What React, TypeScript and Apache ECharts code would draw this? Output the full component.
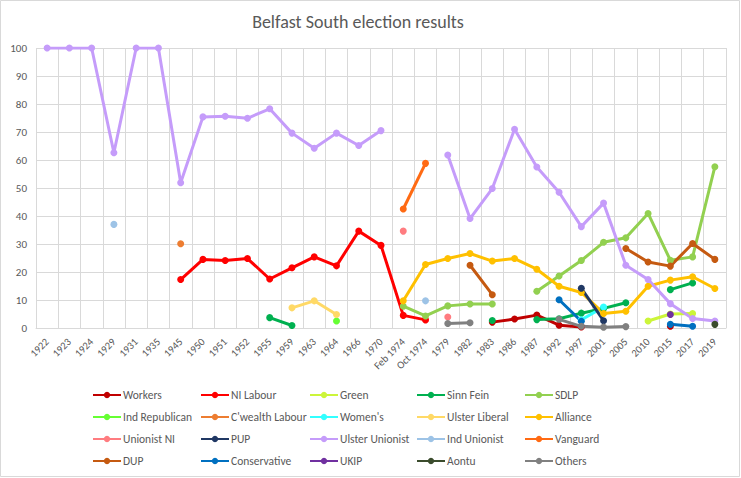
import React, { useEffect, useRef } from "react";
import * as echarts from "echarts";

const _ = null;

const categories = [
  "1922", "1923", "1924", "1929", "1931", "1935", "1945", "1950", "1951", "1952",
  "1955", "1959", "1963", "1964", "1966", "1970", "Feb 1974", "Oct 1974", "1979", "1982",
  "1983", "1986", "1987", "1992", "1997", "2001", "2005", "2010", "2015", "2017", "2019",
];

//                      1922 1923 1924 1929 1931 1935 1945 1950 1951 1952 1955 1959 1963 1964 1966 1970 F74 O74 1979 1982 1983 1986 1987 1992 1997 2001 2005 2010 2015 2017 2019
const workers =        [_, _, _, _, _, _, _, _, _, _, _, _, _, _, _, _, _, _, _, _, 2.1, 3.2, 4.6, 1.0, 0.4, _, _, _, 0.6, _, _];
const niLabour =       [_, _, _, _, _, _, 17.3, 24.5, 24.1, 24.8, 17.5, 21.5, 25.4, 22.2, 34.6, 29.5, 4.5, 2.9, _, _, _, _, _, _, _, _, _, _, _, _, _];
const green =          [_, _, _, _, _, _, _, _, _, _, _, _, _, _, _, _, _, _, _, _, _, _, _, _, _, _, _, 2.5, 5.0, 5.2, _];
const sinnFein =       [_, _, _, _, _, _, _, _, _, _, 3.7, 0.9, _, _, _, _, _, _, _, _, 2.7, _, 3.0, 3.3, 5.3, 7.0, 9.0, _, 13.7, 16.1, _];
const sdlp =           [_, _, _, _, _, _, _, _, _, _, _, _, _, _, _, _, 7.8, 4.3, 7.9, 8.6, 8.6, _, 13.1, 18.6, 24.1, 30.6, 32.2, 40.9, 24.2, 25.4, 57.6];
const indRepublican =  [_, _, _, _, _, _, _, _, _, _, _, _, _, 2.5, _, _, _, _, _, _, _, _, _, _, _, _, _, _, _, _, _];
const cwealthLabour =  [_, _, _, _, _, _, 30.1, _, _, _, _, _, _, _, _, _, _, _, _, _, _, _, _, _, _, _, _, _, _, _, _];
const womens =         [_, _, _, _, _, _, _, _, _, _, _, _, _, _, _, _, _, _, _, _, _, _, _, _, 2.9, 7.5, _, _, _, _, _];
const ulsterLiberal =  [_, _, _, _, _, _, _, _, _, _, _, 7.2, 9.7, 4.8, _, _, _, _, _, _, _, _, _, _, _, _, _, _, _, _, _];
const alliance =       [_, _, _, _, _, _, _, _, _, _, _, _, _, _, _, _, 9.7, 22.7, 24.8, 26.6, 23.9, 24.8, 21.0, 14.9, 12.7, 5.2, 6.0, 14.9, 17.1, 18.3, 14.1];
const unionistNI =     [_, _, _, _, _, _, _, _, _, _, _, _, _, _, _, _, 34.6, _, 3.9, _, _, _, _, _, _, _, _, _, _, _, _];
const pup =            [_, _, _, _, _, _, _, _, _, _, _, _, _, _, _, _, _, _, _, _, _, _, _, _, 14.2, 2.6, _, _, _, _, _];
const ulsterUnionist = [100, 100, 100, 62.6, 100, 100, 51.9, 75.4, 75.6, 74.9, 78.3, 69.6, 64.2, 69.6, 65.2, 70.5, _, _, 61.8, 39.1, 49.8, 71.0, 57.5, 48.5, 36.2, 44.6, 22.4, 17.3, 8.7, 3.4, 2.5];
const indUnionist =    [_, _, _, 37.0, _, _, _, _, _, _, _, _, _, _, _, _, _, 9.7, _, _, _, _, _, _, _, _, _, _, _, _, _];
const vanguard =       [_, _, _, _, _, _, _, _, _, _, _, _, _, _, _, _, 42.5, 58.8, _, _, _, _, _, _, _, _, _, _, _, _, _];
const dup =            [_, _, _, _, _, _, _, _, _, _, _, _, _, _, _, _, _, _, _, 22.4, 11.9, _, _, _, _, _, 28.4, 23.6, 22.1, 30.2, 24.5];
const conservative =   [_, _, _, _, _, _, _, _, _, _, _, _, _, _, _, _, _, _, _, _, _, _, _, 10.1, 2.4, _, _, _, 1.3, 0.6, _];
const ukip =           [_, _, _, _, _, _, _, _, _, _, _, _, _, _, _, _, _, _, _, _, _, _, _, _, _, _, _, _, 4.8, _, _];
const aontu =          [_, _, _, _, _, _, _, _, _, _, _, _, _, _, _, _, _, _, _, _, _, _, _, _, _, _, _, _, _, _, 1.3];
const others =         [_, _, _, _, _, _, _, _, _, _, _, _, _, _, _, _, _, _, 1.6, 1.9, _, _, _, 3.1, 0.6, 0.3, 0.5, _, _, _, _];

const seriesDefs: [string, (number | null)[], string][] = [
  ["Workers", workers, "#c00000"],
  ["NI Labour", niLabour, "#ff0000"],
  ["Green", green, "#ccf53a"],
  ["Sinn Fein", sinnFein, "#00b050"],
  ["SDLP", sdlp, "#92d050"],
  ["Ind Republican", indRepublican, "#66ff33"],
  ["C'wealth Labour", cwealthLabour, "#ed7d31"],
  ["Women's", womens, "#33ffff"],
  ["Ulster Liberal", ulsterLiberal, "#ffd966"],
  ["Alliance", alliance, "#ffc000"],
  ["Unionist NI", unionistNI, "#ff7c80"],
  ["PUP", pup, "#203864"],
  ["Ulster Unionist", ulsterUnionist, "#c59cfa"],
  ["Ind Unionist", indUnionist, "#9dc3e6"],
  ["Vanguard", vanguard, "#ff6a13"],
  ["DUP", dup, "#c55a11"],
  ["Conservative", conservative, "#0070c0"],
  ["UKIP", ukip, "#7030a0"],
  ["Aontu", aontu, "#3b4c2d"],
  ["Others", others, "#808080"],
];

const legendColumns = [
  ["Workers", "Ind Republican", "Unionist NI", "DUP"],
  ["NI Labour", "C'wealth Labour", "PUP", "Conservative"],
  ["Green", "Women's", "Ulster Unionist", "UKIP"],
  ["Sinn Fein", "Ulster Liberal", "Ind Unionist", "Aontu"],
  ["SDLP", "Alliance", "Vanguard", "Others"],
];

const FONT = "Calibri, Carlito, 'Liberation Sans', Arial, sans-serif";
const TEXT = "#595959";
const GRID = "#d9d9d9";

export default function App() {
  const ref = useRef<HTMLDivElement>(null);
  useEffect(() => {
    if (!ref.current) return;
    const chart = echarts.init(ref.current, undefined, { renderer: "svg" });
    const legendLefts = [92, 200, 309, 416, 524];
    chart.setOption({
      animation: false,
      backgroundColor: "#ffffff",
      graphic: [
        {
          type: "rect",
          shape: { x: 0.5, y: 0.5, width: 739, height: 476 },
          style: { fill: "none", stroke: GRID, lineWidth: 1 },
          silent: true,
        },
        {
          type: "text",
          x: 358,
          y: 22,
          style: {
            text: "Belfast South election results",
            fill: TEXT,
            font: `18px ${FONT}`,
            textAlign: "center",
            textVerticalAlign: "middle",
          },
          silent: true,
        },
      ],
      grid: { left: 36, right: 15, top: 48, bottom: 150, containLabel: false },
      legend: legendColumns.map((col, i) => ({
        data: col,
        orient: "vertical",
        left: legendLefts[i],
        top: 388,
        padding: 0,
        itemWidth: 28,
        itemHeight: 8,
        itemGap: 8,
        selectedMode: false,
        textStyle: { color: TEXT, fontSize: 11.5, fontFamily: FONT, lineHeight: 14, height: 14, padding: [0, 0, 0, -3] },
      })),
      xAxis: {
        type: "category",
        data: categories,
        boundaryGap: true,
        axisLine: { show: true, lineStyle: { color: GRID, width: 1 } },
        axisTick: { show: false },
        splitLine: { show: true, lineStyle: { color: GRID, width: 1 } },
        axisLabel: {
          interval: 0,
          rotate: 45,
          color: TEXT,
          fontSize: 10.5,
          fontFamily: FONT,
          margin: 12,
        },
      },
      yAxis: {
        type: "value",
        min: 0,
        max: 100,
        interval: 10,
        axisLine: { show: false },
        axisTick: { show: false },
        splitLine: { show: true, lineStyle: { color: GRID, width: 1 } },
        axisLabel: { color: TEXT, fontSize: 11, fontFamily: FONT, margin: 9 },
      },
      series: seriesDefs.map(([name, data, color]) => ({
        name,
        type: "line",
        data,
        connectNulls: false,
        symbol: "circle",
        symbolSize: 7,
        showSymbol: true,
        showAllSymbol: true,
        color,
        itemStyle: { color },
        lineStyle: { color, width: 3 },
        emphasis: { disabled: true },
      })),
    });
    return () => chart.dispose();
  }, []);
  return (
    <div
      ref={ref}
      style={{ position: "fixed", left: 0, top: 0, width: 741, height: 478, background: "#fff" }}
    />
  );
}
